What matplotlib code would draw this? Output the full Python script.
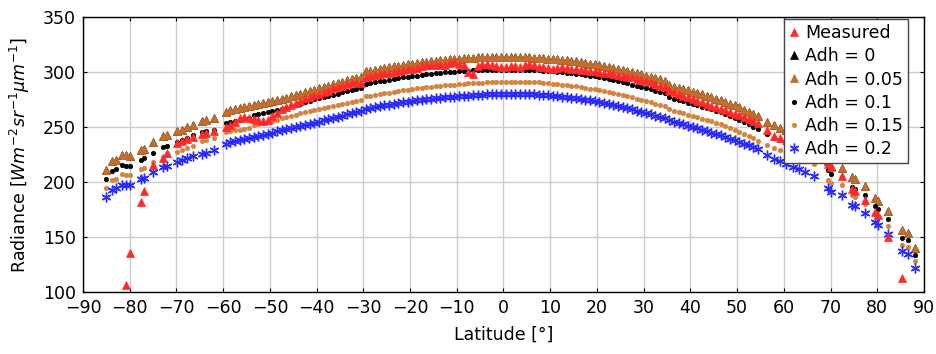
import numpy as np
import matplotlib
matplotlib.use("Agg")
import matplotlib.pyplot as plt

plt.rcParams['font.family'] = ['DejaVu Sans']
plt.rcParams['mathtext.fontset'] = 'dejavusans'

# ---------------- data ----------------
# sparse southern segment
lat_south = [-85.1, -83.9, -83.0, -81.6, -80.7, -80.0, -77.6, -77.0, -75.0,
             -72.9, -72.0, -69.8, -68.9, -67.7, -66.4, -64.6, -63.7, -61.9]
meas_south = [np.nan, np.nan, np.nan, np.nan, 106.7, 135.8, 181.8, 191.8, 215.2,
              222.0, 226.0, 235.5, 237.0, 239.0, 241.0, 244.0, 244.5, 246.0]
a005_south = [211.3, 219.1, 220.4, 224.3, 224.3, 223.4, 229.5, 230.4, 236.4,
              241.5, 243.1, 246.4, 247.0, 250.0, 252.2, 255.5, 256.1, 258.2]
a010_south = [202.5, 210.0, 211.5, 215.2, 214.5, 214.5, 220.4, 221.5, 226.7,
              231.8, 232.5, 236.4, 237.9, 240.0, 242.8, 245.5, 246.1, 247.6]
a015_south = [194.5, 201.5, 202.5, 207.0, 206.1, 206.1, 211.5, 213.0, 218.2,
              223.0, 224.5, 227.3, 229.0, 231.0, 233.0, 237.0, 238.0, 240.0]
a020_south = [186.4, 193.1, 194.5, 197.6, 197.0, 197.0, 203.1, 203.6, 209.1,
              213.6, 214.3, 218.2, 219.7, 221.8, 223.4, 225.8, 226.7, 228.8]

# dense central segment, one sample per degree from -59.5 to 54.5
lat_mid = np.arange(-59.5, 55.0, 1.0)
meas_mid = [250.0, 252.0, 255.0, 258.0, 259.0, 258.0, 257.0, 256.0, 255.5, 256.0,
            260.0, 263.0, 266.0, 268.0, 270.0, 272.0, 274.0, 276.0, 277.5, 279.0,
            280.0, 281.5, 283.0, 285.0, 286.0, 287.5, 289.0, 290.0, 291.0, 290.0,
            295.5, 296.0, 297.0, 298.5, 299.0, 299.5, 300.0, 301.0, 302.0, 302.5,
            303.0, 304.0, 305.0, 306.0, 306.5, 306.0, 306.0, 306.5, 308.0, 309.0,
            307.5, 306.0, 300.0, 298.5, 305.0, 307.5, 307.5, 306.0, 305.0, 304.5,
            304.5, 305.0, 305.5, 304.5, 306.0, 307.5, 306.0, 304.5, 304.5, 304.0,
            303.0, 304.0, 304.5, 304.0, 303.0, 302.5, 302.0, 301.5, 301.0, 300.5,
            300.0, 299.5, 299.0, 298.5, 297.5, 296.5, 295.5, 295.0, 294.0, 293.0,
            292.0, 290.5, 289.0, 287.5, 286.5, 284.0, 282.0, 280.0, 278.5, 277.0,
            275.5, 274.0, 272.5, 271.0, 269.5, 268.0, 266.5, 265.0, 263.5, 262.0,
            260.5, 259.0, 257.5, 255.5, 253.5]
a005_mid = [264.0, 265.0, 266.0, 267.0, 267.8, 268.7, 269.6, 270.5, 271.5, 272.5,
            273.5, 274.6, 275.7, 276.8, 278.0, 279.2, 280.4, 281.6, 282.8, 284.0,
            285.2, 286.4, 287.6, 288.8, 290.0, 291.2, 292.4, 293.5, 294.6, 295.6,
            300.5, 301.3, 302.1, 302.9, 303.7, 304.4, 305.1, 305.8, 306.5, 307.1,
            307.7, 308.3, 308.8, 309.3, 309.8, 310.3, 310.7, 311.1, 311.5, 311.9,
            312.2, 312.5, 312.8, 313.0, 313.2, 313.4, 313.5, 313.6, 313.7, 313.7,
            313.7, 313.7, 313.6, 313.5, 313.4, 313.2, 313.0, 312.8, 312.5, 312.2,
            311.9, 311.5, 311.1, 310.6, 310.1, 309.6, 309.0, 308.4, 307.7, 307.0,
            306.3, 305.5, 304.7, 303.8, 302.9, 302.0, 301.0, 300.0, 299.0, 297.9,
            296.8, 295.6, 294.4, 293.2, 292.0, 288.0, 286.8, 285.6, 284.4, 283.2,
            282.0, 280.8, 279.6, 278.4, 277.1, 275.8, 274.4, 272.9, 271.3, 269.6,
            267.8, 265.9, 263.9, 261.8, 259.6]
a010_mid = [254.0, 255.0, 255.8, 256.6, 257.3, 258.0, 261.0, 261.8, 262.6, 263.4,
            264.3, 265.3, 266.4, 267.6, 268.8, 270.0, 271.3, 272.6, 273.8, 275.0,
            276.1, 277.2, 278.3, 279.4, 280.4, 281.4, 282.3, 283.2, 284.1, 285.0,
            289.0, 289.8, 290.6, 291.4, 292.2, 292.9, 293.6, 294.3, 295.0, 295.6,
            296.2, 296.8, 297.3, 297.8, 298.3, 298.8, 299.2, 299.6, 300.0, 300.4,
            300.7, 301.0, 301.3, 301.5, 301.7, 301.9, 302.0, 302.1, 302.2, 302.2,
            302.2, 302.2, 302.1, 302.0, 301.9, 301.8, 301.6, 301.4, 301.2, 300.9,
            300.6, 300.3, 300.0, 299.5, 299.0, 298.5, 298.0, 297.4, 296.7, 296.0,
            295.3, 294.5, 293.6, 292.7, 291.8, 290.8, 289.7, 288.6, 287.5, 286.4,
            285.3, 284.1, 282.9, 281.7, 280.5, 277.3, 275.9, 274.5, 273.3, 272.1,
            270.9, 269.7, 268.5, 267.3, 266.0, 264.7, 263.4, 261.8, 260.1, 258.3,
            256.4, 254.4, 252.3, 250.1, 247.8]
a015_mid = [245.5, 246.3, 247.0, 247.7, 248.4, 249.1, 251.8, 252.7, 253.7, 254.7,
            255.7, 256.8, 257.9, 259.0, 260.1, 261.2, 262.3, 263.4, 264.5, 265.5,
            266.5, 267.5, 268.5, 269.4, 270.3, 271.1, 271.9, 272.7, 273.5, 274.3,
            277.8, 278.5, 279.2, 279.9, 280.6, 281.3, 282.0, 282.6, 283.2, 283.8,
            284.4, 285.0, 285.5, 286.0, 286.5, 287.0, 287.4, 287.8, 288.2, 288.6,
            289.0, 289.3, 289.6, 289.9, 290.2, 290.4, 290.6, 290.8, 291.0, 291.1,
            291.2, 291.2, 291.2, 291.1, 291.0, 290.9, 290.7, 290.5, 290.2, 289.9,
            289.5, 289.1, 288.6, 288.1, 287.5, 286.9, 286.3, 285.6, 284.9, 284.2,
            283.4, 282.6, 281.7, 280.8, 279.9, 278.9, 277.9, 276.9, 275.8, 274.7,
            273.6, 272.4, 271.2, 270.0, 268.8, 266.0, 264.8, 263.6, 262.4, 261.2,
            260.0, 258.8, 257.6, 256.4, 255.1, 253.8, 252.5, 251.0, 249.4, 247.7,
            245.9, 244.0, 242.0, 239.9, 237.7]
a020_mid = [235.0, 236.0, 237.0, 238.0, 239.0, 240.0, 241.0, 242.0, 243.0, 244.0,
            245.0, 246.0, 247.0, 248.0, 249.0, 250.0, 251.0, 252.0, 253.0, 254.0,
            255.0, 256.0, 257.0, 258.1, 259.2, 260.3, 261.4, 262.5, 263.5, 264.5,
            266.5, 267.3, 268.1, 268.9, 269.6, 270.3, 271.0, 271.7, 272.3, 272.9,
            273.5, 274.1, 274.6, 275.1, 275.6, 276.1, 276.5, 276.9, 277.3, 277.7,
            278.0, 278.3, 278.6, 278.9, 279.2, 279.4, 279.6, 279.8, 280.0, 280.1,
            280.2, 280.2, 280.2, 280.1, 280.0, 279.8, 279.6, 279.4, 279.1, 278.8,
            278.5, 278.1, 277.7, 277.2, 276.7, 276.1, 275.5, 274.8, 274.1, 273.4,
            272.6, 271.8, 270.9, 270.0, 269.1, 268.1, 267.1, 266.0, 264.9, 263.8,
            262.6, 261.4, 260.2, 259.0, 257.8, 256.0, 254.7, 253.5, 252.3, 251.1,
            249.9, 248.7, 247.5, 246.3, 245.0, 243.7, 242.4, 241.0, 239.5, 238.0,
            236.5, 234.9, 233.2, 231.5, 229.7]

# sparse northern segment
lat_north = [56.4, 57.8, 59.1, 60.4, 62.0, 63.3, 64.6, 66.4, 69.5, 70.1,
             72.4, 74.5, 75.2, 77.4, 79.6, 80.2, 82.4, 85.4, 86.5, 88.1]
meas_north = [247.0, 241.5, 240.4, 238.0, 235.5, 233.0, 230.5, 227.0, 216.7, 214.0,
              205.2, 193.5, 191.5, 184.0, 172.7, 170.0, 150.0, 113.0, np.nan, np.nan]
a005_north = [254.5, 251.5, 249.5, 247.5, 245.0, 242.5, 240.0, 236.0, 219.0, 215.0,
              213.0, 204.5, 203.0, 196.0, 185.8, 182.7, 173.6, 156.1, 154.0, 140.0]
a010_north = [244.0, 240.4, 238.5, 236.5, 234.0, 231.5, 229.0, 225.5, 211.3, 207.6,
              204.5, 195.5, 194.0, 187.9, 177.9, 175.2, 166.1, 149.1, 147.0, 133.4]
a015_north = [233.4, 231.3, 229.4, 227.5, 225.0, 222.5, 220.0, 216.5, 202.2, 199.0,
              197.0, 188.0, 186.5, 180.4, 170.6, 167.0, 159.7, 143.1, 140.9, 127.9]
a020_north = [224.3, 221.3, 218.8, 216.7, 213.6, 211.5, 209.0, 205.5, 194.9, 191.0,
              187.9, 179.5, 178.2, 172.2, 163.6, 161.3, 153.1, 137.0, 134.9, 121.8]

latitude = np.concatenate([lat_south, lat_mid, lat_north])
measured = np.concatenate([meas_south, meas_mid, meas_north])
adh_005 = np.concatenate([a005_south, a005_mid, a005_north])
adh_000 = adh_005.copy()   # Adh = 0 coincides with Adh = 0.05 (hidden beneath it)
adh_010 = np.concatenate([a010_south, a010_mid, a010_north])
adh_015 = np.concatenate([a015_south, a015_mid, a015_north])
adh_020 = np.concatenate([a020_south, a020_mid, a020_north])

series_labels = ['Measured', 'Adh = 0', 'Adh = 0.05', 'Adh = 0.1', 'Adh = 0.15', 'Adh = 0.2']
x_ticks = list(range(-90, 91, 10))
y_ticks = list(range(100, 351, 50))

# ---------------- figure ----------------
fig = plt.figure(figsize=(9.37, 3.54), dpi=100)
ax = fig.add_axes([0.0886, 0.1751, 0.8975, 0.7769])

RED = '#ff2a2a'
BROWN = '#c0702c'
ORANGE = '#d4843e'
BLUE = '#2a2aff'

styles = [
    dict(marker='^', color=RED, ms=5.3, z=4),
    dict(marker='^', color='black', ms=5.3, z=2),
    dict(marker='^', color=BROWN, ms=5.3, z=3),
    dict(marker='o', color='black', ms=3.2, z=3),
    dict(marker='o', color=ORANGE, ms=3.2, z=3),
    dict(marker=(6, 2, 0), color=BLUE, ms=7.0, mew=1.0, z=3),
]
data = [measured, adh_000, adh_005, adh_010, adh_015, adh_020]
for vals, lab, st in zip(data, series_labels, styles):
    ax.plot(latitude, vals, linestyle='none', label=lab, zorder=st['z'],
            marker=st['marker'], color=st['color'], markersize=st['ms'],
            markeredgewidth=st.get('mew', 0.5), markeredgecolor=st['color'])

ax.set_xlim(-90, 90)
ax.set_ylim(100, 350)
ax.set_xticks(x_ticks)
ax.set_yticks(y_ticks)
ax.tick_params(direction='in', length=3, top=True, right=True, labelsize=12.5, pad=5)
ax.grid(True, color='#cccccc', linewidth=1.0)
ax.set_axisbelow(True)
for s in ax.spines.values():
    s.set_linewidth(1.0)

ax.set_xlabel('Latitude [°]', fontsize=12.5, labelpad=6)
ax.set_ylabel('Radiance [$Wm^{-2}sr^{-1}\\mu m^{-1}$]', fontsize=12.5, labelpad=8)

leg = ax.legend(loc='upper right', bbox_to_anchor=(0.981, 0.993), borderaxespad=0,
                fontsize=12.5, handlelength=0.6, handletextpad=0.3, labelspacing=0.3,
                borderpad=0.3, frameon=True, fancybox=False, framealpha=1,
                edgecolor='#444444', markerscale=1.0)
leg.get_frame().set_linewidth(1.0)
leg.set_zorder(10)

fig.savefig('out.png', dpi=100)
